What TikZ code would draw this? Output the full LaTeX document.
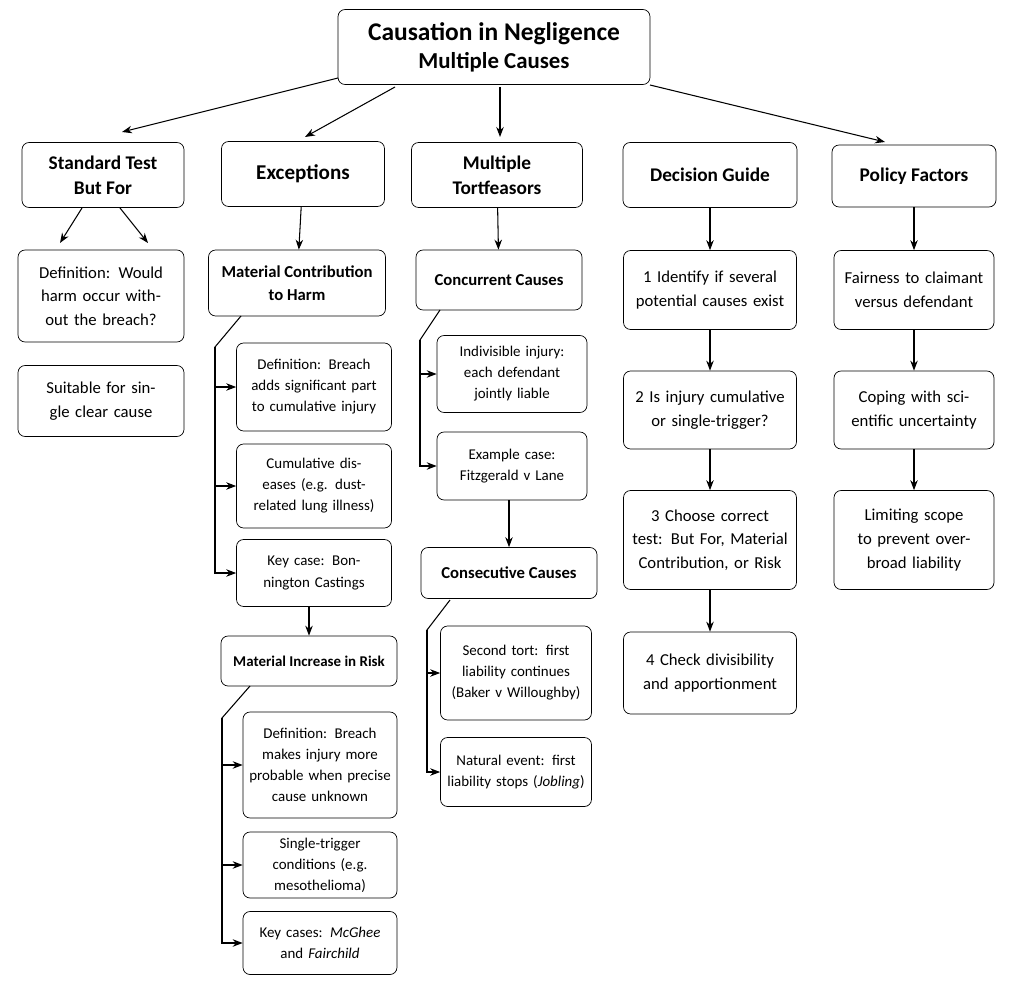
\documentclass[tikz,border=0pt]{standalone}
\usepackage{fontspec}
\setmainfont{Carlito}
\usetikzlibrary{arrows.meta,positioning}
\tikzset{
  box/.style={draw, rounded corners=4pt, fill=white, align=center,
              inner sep=2pt, font=\fontsize{9.5}{13.5}\selectfont},
  head/.style={box, font=\bfseries\fontsize{11}{14}\selectfont},
  sub/.style={box, font=\bfseries\fontsize{9.5}{13}\selectfont},
  leaf/.style={box, font=\fontsize{8.5}{12}\selectfont},
  arr/.style={-{Stealth[length=2mm]}, semithick},
  trunk/.style={semithick}
}
\newcommand{\bx}[5]{% style, name, x1/y1, x2/y2 (px), text
  \node[#1, minimum width=#4, minimum height=#5] (#2)}
\begin{document}
\begin{tikzpicture}[x=0.02cm, y=-0.02cm]
\useasboundingbox (0,0) rectangle (1013,993);
% title
\node[box, minimum width=6.24cm, minimum height=1.5cm, font=\bfseries\fontsize{13}{16}\selectfont] (title) at (494,47)
  {{\fontsize{14.5}{16}\selectfont Causation in Negligence}\\Multiple Causes};
% level one
\node[head, minimum width=3.24cm, minimum height=1.3cm] (std) at (103,175) {Standard Test\\But For};
\node[head, minimum width=3.26cm, minimum height=1.3cm, font=\bfseries\fontsize{12}{14}\selectfont] (exc) at (303,174) {Exceptions};
\node[head, minimum width=3.42cm, minimum height=1.3cm] (mul) at (497,175) {Multiple\\Tortfeasors};
\node[head, minimum width=3.48cm, minimum height=1.3cm] (dec) at (710,175) {Decision Guide};
\node[head, minimum width=3.28cm, minimum height=1.24cm] (pol) at (914,176) {Policy Factors};
\draw[arr] (338,78) -- (122,132);
\draw[arr] (395,87) -- (305,137);
\draw[arr] (500,87) -- (500,137);
\draw[arr] (650,85) -- (885,142);
% standard test
\node[box, text width=3.1cm, minimum width=3.32cm, minimum height=1.84cm] (stdA) at (101,296) {Definition: Would harm occur without the breach?};
\node[box, text width=3.1cm, minimum width=3.32cm, minimum height=1.42cm] (stdB) at (101,401) {Suitable for single clear cause};
\draw[arr] (82,208) -- (60,243);
\draw[arr] (120,208) -- (148,243);
% exceptions
\node[sub, minimum width=3.54cm, minimum height=1.32cm] (mc) at (297,283) {Material Contribution\\to Harm};
\node[leaf, text width=2.9cm, minimum width=3.1cm, minimum height=1.76cm] (mcA) at (314,387) {Definition: Breach adds significant part to cumulative injury};
\node[leaf, text width=2.9cm, minimum width=3.1cm, minimum height=1.68cm] (mcB) at (314,486) {Cumulative diseases (e.g. dust-related lung illness)};
\node[leaf, text width=2.9cm, minimum width=3.1cm, minimum height=1.34cm] (mcC) at (314,573) {Key case: Bonnington Castings};
\node[sub, minimum width=3.52cm, minimum height=1.0cm, font=\bfseries\fontsize{8.5}{12}\selectfont] (mi) at (309,661) {Material Increase in Risk};
\node[leaf, text width=2.9cm, minimum width=3.08cm, minimum height=2.12cm] (miA) at (320,765) {Definition: Breach makes injury more probable when precise cause unknown};
\node[leaf, text width=2.9cm, minimum width=3.08cm, minimum height=1.32cm] (miB) at (320,865) {Single-trigger conditions (e.g. mesothelioma)};
\node[leaf, text width=2.9cm, minimum width=3.08cm, minimum height=1.26cm] (miC) at (320,943) {Key cases: \textit{McGhee} and \textit{Fairchild}};
\draw[arr] (exc) -- (mc);
\coordinate (mcs) at (241,316); \coordinate (mct) at (215,347);
\draw[trunk] (mcs) -- (mct) -- (215,567);
\draw[arr] (mct) |- (mcA); \draw[arr] (mct) |- (mcB); \draw[arr] (mct) |- (mcC);
\draw[arr] (mcC.south -| mi) -- (mi);
\coordinate (mis) at (250,686); \coordinate (mit) at (222,718);
\draw[trunk] (mis) -- (mit) -- (222,943);
\draw[arr] (mit) |- (miA); \draw[arr] (mit) |- (miB); \draw[arr] (mit) |- (miC);
% multiple tortfeasors
\node[sub, minimum width=3.32cm, minimum height=1.2cm] (cc) at (499,280) {Concurrent Causes};
\node[leaf, text width=2.8cm, minimum width=3.0cm, minimum height=1.54cm] (ccA) at (512,374) {Indivisible injury: each defendant jointly liable};
\node[leaf, text width=2.8cm, minimum width=3.0cm, minimum height=1.36cm] (ccB) at (512,466) {Example case: Fitzgerald v Lane};
\node[sub, minimum width=3.52cm, minimum height=1.02cm] (cs) at (509,573) {Consecutive Causes};
\node[leaf, text width=2.8cm, minimum width=3.02cm, minimum height=1.88cm] (csA) at (516,673) {Second tort: first liability continues (Baker v Willoughby)};
\node[leaf, text width=2.8cm, minimum width=3.02cm, minimum height=1.38cm] (csB) at (516,772) {Natural event: first liability stops (\textit{Jobling})};
\draw[arr] (mul) -- (cc);
\coordinate (ccs) at (440,310); \coordinate (cct) at (420,340);
\draw[trunk] (ccs) -- (cct) -- (420,466);
\draw[arr] (cct) |- (ccA); \draw[arr] (cct) |- (ccB);
\draw[arr] (ccB.south -| cs) -- (cs);
\coordinate (css) at (450,600); \coordinate (cst) at (427,630);
\draw[trunk] (css) -- (cst) -- (427,772);
\draw[arr] (cst) |- (csA); \draw[arr] (cst) |- (csB);
% decision guide
\node[box, text width=3.3cm, minimum width=3.46cm, minimum height=1.58cm] (d1) at (710,290) {1 Identify if several potential causes exist};
\node[box, text width=3.3cm, minimum width=3.46cm, minimum height=1.56cm] (d2) at (710,410) {2 Is injury cumulative or single-trigger?};
\node[box, text width=3.3cm, minimum width=3.46cm, minimum height=1.98cm] (d3) at (710,540) {3 Choose correct test: But For, Material Contribution, or Risk};
\node[box, text width=3.3cm, minimum width=3.46cm, minimum height=1.64cm] (d4) at (710,673) {4 Check divisibility and apportionment};
\draw[arr] (dec) -- (d1);
\draw[arr] (d1) -- (d2);
\draw[arr] (d2) -- (d3);
\draw[arr] (d3) -- (d4);
% policy factors
\node[box, text width=3.0cm, minimum width=3.2cm, minimum height=1.58cm] (p1) at (914,290) {Fairness to claimant versus defendant};
\node[box, text width=3.0cm, minimum width=3.2cm, minimum height=1.56cm] (p2) at (914,410) {Coping with scientific uncertainty};
\node[box, text width=3.0cm, minimum width=3.2cm, minimum height=1.98cm] (p3) at (914,540) {Limiting scope to prevent over-broad liability};
\draw[arr] (pol) -- (p1);
\draw[arr] (p1) -- (p2);
\draw[arr] (p2) -- (p3);
\end{tikzpicture}
\end{document}
